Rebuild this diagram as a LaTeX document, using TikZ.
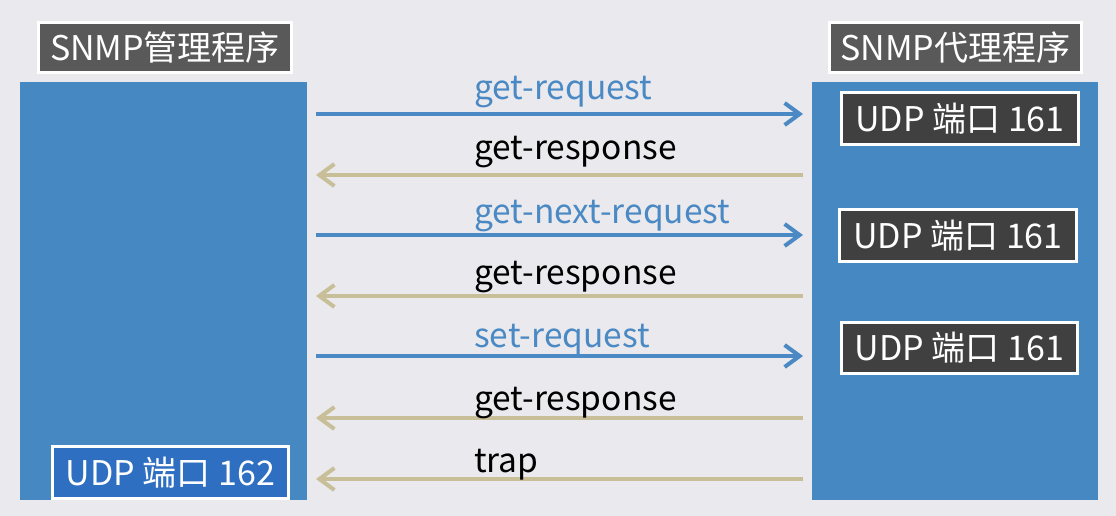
\documentclass[tikz,border=0pt]{standalone}
\usepackage{fontspec}
\setmainfont{Noto Sans CJK SC}
\usetikzlibrary{arrows.meta}
\definecolor{bgc}{HTML}{E9E9EE}
\definecolor{blk}{HTML}{4689C2}
\definecolor{titlec}{HTML}{595959}
\definecolor{portc}{HTML}{404040}
\definecolor{mgrport}{HTML}{2F6FC1}
\definecolor{reqc}{HTML}{4A89C3}
\definecolor{tanc}{HTML}{C8BF98}
\tikzset{
  x=1pt, y=-1pt,
  block/.style={fill=blk, draw=none, minimum width=#1, minimum height=418, anchor=north west, inner sep=0},
  labelbox/.style={draw=white, line width=3pt, text=white, inner sep=0, font=\fontsize{34}{34}\selectfont},
  msg/.style={anchor=base west, inner sep=0, font=\fontsize{33.5}{33.5}\selectfont},
  req/.style={draw=reqc, line width=4pt, -{Straight Barb[length=15pt,width=22pt,line width=4pt]}},
  rsp/.style={draw=tanc, line width=4pt, -{Straight Barb[length=15pt,width=22pt,line width=4pt]}},
}
\begin{document}
\begin{tikzpicture}
\fill[bgc] (0,0) rectangle (1116,516);
\useasboundingbox (0,0) rectangle (1116,516);
% blocks
\node[block=287] (mgr) at (20,82) {};
\node[block=286] (agent) at (812,82) {};
% titles
\node[labelbox, fill=titlec, minimum width=253, minimum height=50] (mgrtitle) at (165,47.5) {SNMP管理程序};
\node[labelbox, fill=titlec, minimum width=252, minimum height=50] (agenttitle) at (955.5,47.5) {SNMP代理程序};
% ports
\node[labelbox, fill=portc, minimum width=237, minimum height=52] (p1) at (960,118.5) {UDP 端口 161};
\node[labelbox, fill=portc, minimum width=237, minimum height=52] (p2) at (958,235.5) {UDP 端口 161};
\node[labelbox, fill=portc, minimum width=236, minimum height=51] (p3) at (959.5,348) {UDP 端口 161};
\node[labelbox, fill=mgrport, minimum width=236, minimum height=52] (p162) at (170.5,472.5) {UDP 端口 162};
% arrow endpoints
\coordinate (m1) at (316,114); \coordinate (a1) at (803,114);
\coordinate (m2) at (316,175); \coordinate (a2) at (803,175);
\coordinate (m3) at (316,235); \coordinate (a3) at (803,235);
\coordinate (m4) at (316,296); \coordinate (a4) at (803,296);
\coordinate (m5) at (316,356); \coordinate (a5) at (803,356);
\coordinate (m6) at (316,418); \coordinate (a6) at (803,418);
\coordinate (m7) at (316,479); \coordinate (a7) at (803,479);
\draw[req] (m1) -- (a1);
\draw[rsp] (a2) -- (m2);
\draw[req] (m3) -- (a3);
\draw[rsp] (a4) -- (m4);
\draw[req] (m5) -- (a5);
\draw[rsp] (a6) -- (m6);
\draw[rsp] (a7) -- (m7);
% labels
\node[msg, text=reqc] (l1) at (474,100) {get-request};
\node[msg] (l2) at (474,160) {get-response};
\node[msg, text=reqc] (l3) at (474,223) {get-next-request};
\node[msg] (l4) at (474,284) {get-response};
\node[msg, text=reqc] (l5) at (474,347) {set-request};
\node[msg] (l6) at (474,410) {get-response};
\node[msg] (l7) at (474,472) {trap};
\end{tikzpicture}
\end{document}
